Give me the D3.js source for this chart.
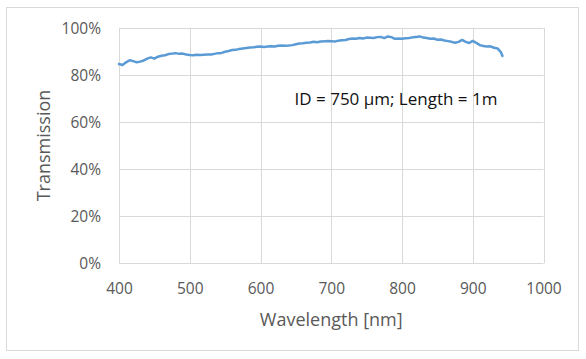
<!DOCTYPE html>
<html>
<head>
<meta charset="utf-8">
<script src="https://cdn.jsdelivr.net/npm/d3@7"></script>
<style>
  html, body { margin: 0; padding: 0; background: #fff; }
  svg { display: block; font-family: "Open Sans", sans-serif; }
</style>
</head>
<body>
<svg id="chart" width="586" height="359"></svg>
<script>
// ---- data ----
const wavelengths = [400,405,410,415,420,425,430,435,440,445,450,455,460,465,470,475,480,485,490,495,
  500,505,510,515,520,525,530,535,540,545,550,555,560,565,570,575,580,585,590,595,
  600,605,610,615,620,625,630,635,640,645,650,655,660,665,670,675,680,685,690,695,
  700,705,710,715,720,725,730,735,740,745,750,755,760,765,770,775,780,785,790,795,
  800,805,810,815,820,825,830,835,840,845,850,855,860,865,870,875,880,885,890,895,
  900,905,910,915,920,925,930,935,940,942];
const transmission = [84.6,84.2,85.3,86.2,85.8,85.3,85.6,86.1,86.9,87.4,86.9,87.7,88.1,88.3,88.8,89.0,89.2,88.9,89.0,88.6,
  88.4,88.3,88.5,88.4,88.5,88.6,88.6,88.9,89.2,89.3,89.8,90.1,90.5,90.6,91.0,91.2,91.4,91.6,91.7,91.9,
  92.0,91.8,92.0,92.1,92.0,92.3,92.4,92.3,92.4,92.6,93.0,93.3,93.4,93.6,93.7,94.0,93.8,94.1,94.2,94.4,
  94.3,94.1,94.5,94.7,94.8,95.2,95.4,95.3,95.6,95.4,95.8,95.7,95.6,96.0,96.1,95.6,96.3,96.0,95.3,95.4,
  95.3,95.5,95.6,95.9,96.1,96.3,95.8,95.6,95.3,95.4,94.9,95.0,94.6,94.3,94.0,93.6,94.0,94.8,94.0,93.5,
  94.4,93.6,92.6,92.2,92.0,92.1,91.5,91.2,89.5,88.0];
const xTicks = [400,500,600,700,800,900,1000];
const yTicks = [0,20,40,60,80,100];
const xTitle = "Wavelength [nm]";
const yTitle = "Transmission";
const annotation = "ID = 750 µm; Length = 1m";

// ---- layout ----
const svg = d3.select("#chart");
const plot = {left: 119, right: 543.5, top: 27.7, bottom: 263.3};
const x = d3.scaleLinear().domain([400,1000]).range([plot.left, plot.right]);
const y = d3.scaleLinear().domain([0,100]).range([plot.bottom, plot.top]);
const grid = "#d9d9d9", textCol = "#595959";

// outer border
svg.append("rect").attr("x",6.5).attr("y",7.5).attr("width",572).attr("height",343)
  .attr("fill","#fff").attr("stroke",grid).attr("stroke-width",1);

// gridlines
svg.append("g").selectAll("line").data(yTicks).join("line")
  .attr("x1",plot.left).attr("x2",plot.right)
  .attr("y1",d=>Math.round(y(d))+0.5).attr("y2",d=>Math.round(y(d))+0.5)
  .attr("stroke",grid).attr("stroke-width",1);
svg.append("g").selectAll("line").data(xTicks).join("line")
  .attr("x1",d=>Math.round(x(d))+0.5).attr("x2",d=>Math.round(x(d))+0.5)
  .attr("y1",plot.top).attr("y2",plot.bottom)
  .attr("stroke",grid).attr("stroke-width",1);

// axes labels via d3 axes
const xAxis = svg.append("g").attr("transform",`translate(0,${plot.bottom})`)
  .call(d3.axisBottom(x).tickValues(xTicks).tickSize(0).tickPadding(0).tickFormat(d3.format("d")));
xAxis.select(".domain").remove();
xAxis.selectAll("text").attr("dy",null).attr("y",31).attr("fill",textCol)
  .style("font-size","15.5px").style("font-family","'Open Sans', sans-serif");

const yAxis = svg.append("g").attr("transform",`translate(${plot.left},0)`)
  .call(d3.axisLeft(y).tickValues(yTicks).tickSize(0).tickPadding(0).tickFormat(d=>d+"%"));
yAxis.select(".domain").remove();
yAxis.selectAll("text").attr("x",-18).attr("dy","0.36em").attr("fill",textCol)
  .style("font-size","15.5px").style("font-family","'Open Sans', sans-serif");

// titles
svg.append("text").attr("x",(plot.left+plot.right)/2).attr("y",326)
  .attr("text-anchor","middle").attr("fill",textCol).style("font-size","18px").text(xTitle);
svg.append("text").attr("transform",`translate(50,${(plot.top+plot.bottom)/2}) rotate(-90)`)
  .attr("text-anchor","middle").attr("fill",textCol).style("font-size","18px").text(yTitle);

// line
const pts = wavelengths.map((w,i)=>[w,transmission[i]]);
svg.append("path").datum(pts)
  .attr("fill","none").attr("stroke","#5b9bd5").attr("stroke-width",2.5)
  .attr("stroke-linejoin","round").attr("stroke-linecap","round")
  .attr("d", d3.line().x(d=>x(d[0])).y(d=>y(d[1])));

// annotation
svg.append("text").attr("x",396).attr("y",105).attr("text-anchor","middle")
  .attr("fill","#111").style("font-size","17px").text(annotation);
</script>
</body>
</html>
